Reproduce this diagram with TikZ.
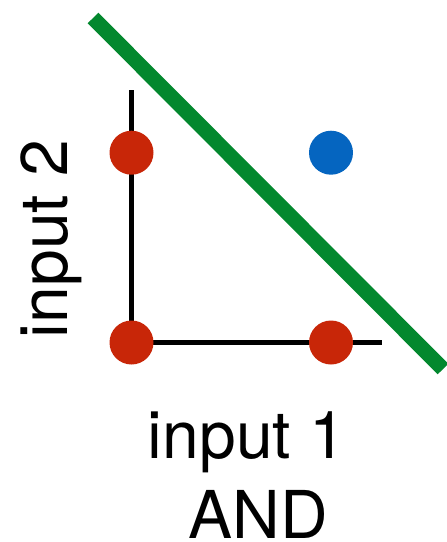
\documentclass[tikz,border=0pt]{standalone}
\usepackage{fontspec}
\setmainfont{TeX Gyre Heros}
\definecolor{dotred}{RGB}{200,38,8}
\definecolor{dotblue}{RGB}{5,101,192}
\definecolor{sepgreen}{RGB}{3,136,46}
\begin{document}
\begin{tikzpicture}[x=1pt,y=-1pt,
  axisline/.style={line width=4.8pt,black},
  reddot/.style={circle,fill=dotred,minimum size=44pt,inner sep=0pt},
  bluedot/.style={circle,fill=dotblue,minimum size=44pt,inner sep=0pt},
  sepline/.style={line width=15pt,sepgreen},
  lbl/.style={inner sep=0pt,anchor=base,font=\fontsize{66}{70}\selectfont}]
\useasboundingbox (0,0) rectangle (447,542);
\coordinate (ytop) at (131.5,90);
\coordinate (orig) at (131.5,342.5);
\coordinate (xend) at (382,342.5);
\coordinate (gs) at (93,18);
\coordinate (ge) at (443,369);
\draw[axisline] (ytop) -- (orig) -- (xend);
\draw[sepline] (gs) -- (ge);
\node[reddot] (p01) at (131.5,152.7) {};
\node[reddot] (p00) at (131.5,342.5) {};
\node[reddot] (p10) at (331,342.5) {};
\node[bluedot] (p11) at (331,152.7) {};
\node[lbl,rotate=90] (ylab) at (67,239) {input 2};
\node[lbl] (xlab) at (247,458.3) {input 1};
\node[lbl] (title) at (258,538.5) {AND};
\end{tikzpicture}
\end{document}
